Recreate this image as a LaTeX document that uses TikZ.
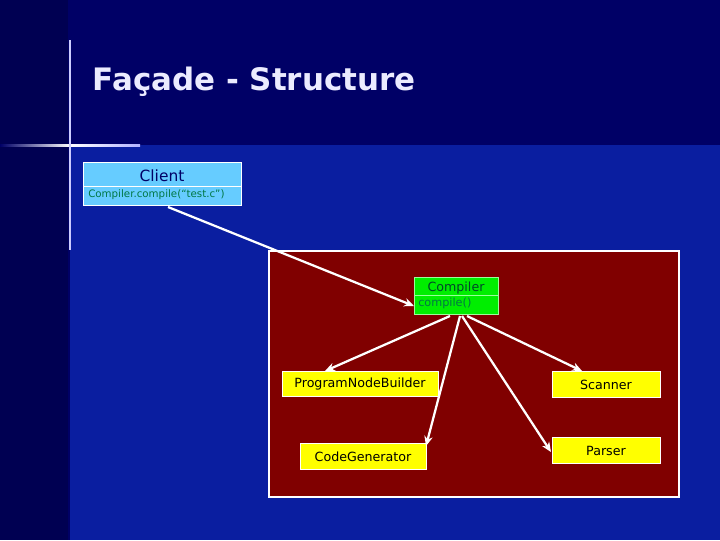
\documentclass[tikz,border=0pt]{standalone}
\usepackage{fontspec}
\setmainfont{DejaVu Sans}
\usetikzlibrary{arrows.meta}
\definecolor{navy}{HTML}{000066}
\definecolor{panelblue}{HTML}{0A1EA0}
\definecolor{clientblue}{HTML}{66CCFF}
\definecolor{opgreen}{HTML}{007744}
\definecolor{framered}{HTML}{800000}
\definecolor{boxgreen}{HTML}{00EE00}
\definecolor{boxyellow}{HTML}{FFFF00}
\tikzset{
  cls/.style={draw=white,line width=0.6pt,fill=boxyellow,minimum height=18pt,font=\fontsize{9}{11}\selectfont,inner sep=0pt},
  link/.style={draw=white,line width=1.6pt,-{Stealth[length=7pt,width=6pt]}}
}
\begin{document}
\begin{tikzpicture}[x=0.025cm,y=-0.025cm]
\useasboundingbox (0,0) rectangle (720,540);
\fill[navy] (0,0) rectangle (720,540);
\fill[panelblue] (70,145) rectangle (720,540);
\fill[navy!80!black] (0,0) rectangle (68,540);
% flare
\shade[left color=navy,right color=white!70!blue,middle color=white] (0,144) rectangle (140,146);
\fill[white!80!blue] (69,40) rectangle (71,250);
\node[anchor=west,text=white!92!blue,font=\fontsize{22}{26}\selectfont\bfseries] (title) at (88,82) {Façade - Structure};
% client
\draw[white,fill=clientblue] (83,162) rectangle (241,205);
\draw[white] (83,186) -- (241,186);
\node[text=navy,font=\fontsize{11}{13}\selectfont] (client) at (162,176) {Client};
\node[anchor=west,text=opgreen,font=\fontsize{7.3}{9}\selectfont,inner sep=0pt] (clientop) at (88,195) {Compiler.compile(“test.c”)};
% frame
\draw[white,line width=1.5pt,fill=framered] (269,251) rectangle (679,497);
% compiler
\draw[white!60!green,fill=boxgreen] (414,277) rectangle (498,314);
\draw[white!60!green] (414,295) -- (498,295);
\node[text=opgreen!60!black,font=\fontsize{9}{11}\selectfont] (compiler) at (456,288) {Compiler};
\node[anchor=west,text=opgreen,font=\fontsize{8}{10}\selectfont,inner sep=0pt] (compileop) at (418,303) {compile()};
\coordinate (compbot) at (460,316);
% classes
\node[cls,minimum width=156*0.025cm] (builder) at (360,384) {ProgramNodeBuilder};
\node[cls,minimum width=108*0.025cm] (scanner) at (606,384.5) {Scanner};
\node[cls,minimum width=126*0.025cm] (codegen) at (363,456.5) {CodeGenerator};
\node[cls,minimum width=108*0.025cm] (parser) at (606,450.5) {Parser};
% connectors
\coordinate (clientout) at (168,207);
\coordinate (compin) at (414,306);
\draw[link] (clientout) -- (compin);
\draw[link] ([xshift=-10*0.025cm]compbot) -- (325,371);
\draw[link] (compbot) -- (426,446);
\draw[link] ([xshift=2*0.025cm]compbot) -- (551,452);
\draw[link] ([xshift=7*0.025cm]compbot) -- (582,371);
\end{tikzpicture}
\end{document}
